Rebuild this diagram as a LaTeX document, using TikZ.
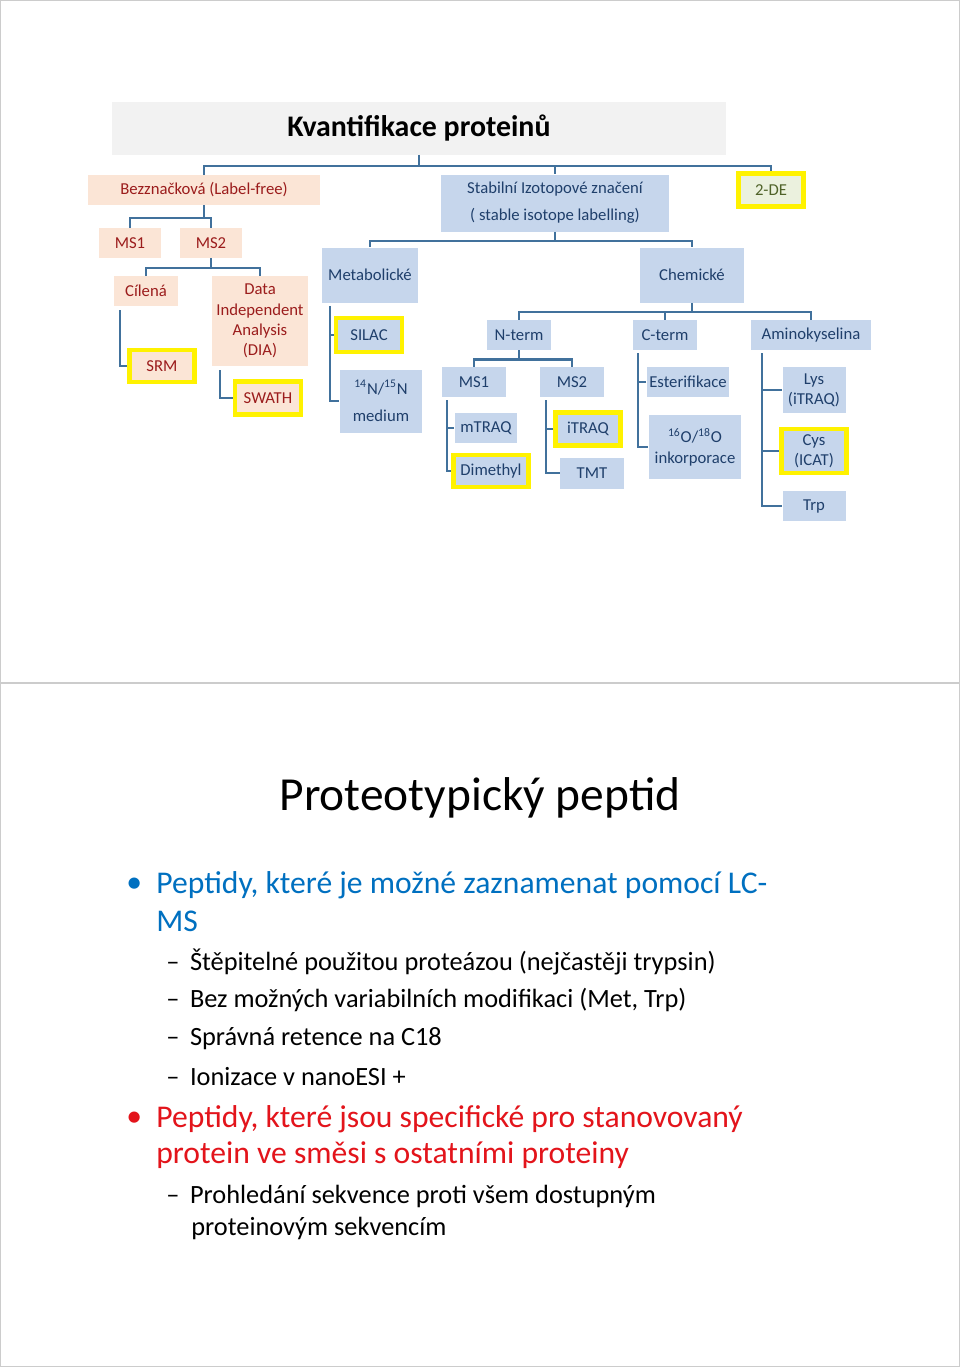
\documentclass[tikz,border=0pt]{standalone}
\usepackage{fontspec}
\setmainfont{Carlito}
\usetikzlibrary{calc}

\definecolor{peach}{HTML}{FBE5D6}
\definecolor{redtxt}{HTML}{9B1C1C}
\definecolor{bluebox}{HTML}{C6D6EC}
\definecolor{bluetxt}{HTML}{1F3F6B}
\definecolor{linecol}{HTML}{41719C}
\definecolor{greenbox}{HTML}{EBF1DE}
\definecolor{greentxt}{HTML}{4F6228}
\definecolor{bulletblue}{HTML}{0070C0}
\definecolor{bulletred}{HTML}{E3141B}

\tikzset{
  lf/.style={fill=peach, text=redtxt, font=\fontsize{9.5}{11.5}\selectfont, inner sep=0pt, align=center},
  sil/.style={fill=bluebox, text=bluetxt, font=\fontsize{9.5}{11.5}\selectfont, inner sep=0pt, align=center},
  hl/.style={draw=yellow, line width=2.6pt},
  conn/.style={draw=linecol, line width=1.3pt},
  bul/.style={anchor=west, inner sep=0pt, font=\fontsize{18}{21}\selectfont},
  sub/.style={anchor=west, inner sep=0pt, font=\fontsize{15}{18}\selectfont},
}

\begin{document}
\begin{tikzpicture}[x=0.02cm, y=-0.02cm]

%%%%%%%%%%%%%%%%%%%%%%
%%%	    Cadre       %%%
%%%%%%%%%%%%%%%%%%%%%%

\useasboundingbox (0,0) rectangle (960,1367);
\fill[white] (0,0) rectangle (960,1367);
\draw[black!20, line width=0.6pt] (0.5,0.5) rectangle (959.5,1366.5);
\draw[black!20, line width=0.6pt] (0,683) -- (960,683);

%%%%%%%%%%%%%%%%%%%%%%
%%%	   Noeuds       %%%
%%%%%%%%%%%%%%%%%%%%%%

\node[fill=black!5, minimum width=12.28cm, minimum height=1.06cm, font=\fontsize{17}{20}\selectfont\bfseries] (titre) at (419,128) {Kvantifikace proteinů};

\node[lf, minimum width=4.64cm, minimum height=0.6cm] (bezz) at (204,190) {Bezznačková (Label-free)};
\node[sil, minimum width=4.56cm, minimum height=1.14cm] (stab) at (555,203) {Stabilní Izotopové značení\\[4pt]( stable isotope labelling)};
\node[hl, fill=greenbox, text=greentxt, font=\fontsize{9.5}{11.5}\selectfont, inner sep=0pt, minimum width=1.3cm, minimum height=0.66cm] (de) at (771,190) {2-DE};

\node[lf, minimum width=1.26cm, minimum height=0.6cm] (ms1a) at (130,243) {MS1};
\node[lf, minimum width=1.26cm, minimum height=0.6cm] (ms2a) at (211,243) {MS2};
\node[lf, minimum width=1.28cm, minimum height=0.6cm] (cil) at (146,291) {Cílená};
\node[lf, minimum width=1.92cm, minimum height=1.8cm] (dia) at (260,321) {Data\\Independent\\Analysis\\(DIA)};
\node[lf, hl, minimum width=1.3cm, minimum height=0.64cm] (srm) at (162,366) {SRM};
\node[lf, hl, minimum width=1.32cm, minimum height=0.66cm] (swath) at (268,398) {SWATH};

\node[sil, minimum width=1.92cm, minimum height=1.1cm] (metab) at (370,275) {Metabolické};
\node[sil, minimum width=2.1cm, minimum height=1.1cm] (chem) at (692,275) {Chemické};
\node[sil, hl, minimum width=1.32cm, minimum height=0.68cm] (silac) at (369,335) {SILAC};
\node[sil, minimum width=1.66cm, minimum height=1.26cm] (med) at (381,401) {\textsuperscript{14}N/\textsuperscript{15}N\\[4pt]medium};

\node[sil, minimum width=1.28cm, minimum height=0.6cm] (nterm) at (519,335) {N-term};
\node[sil, minimum width=1.28cm, minimum height=0.6cm] (cterm) at (665,335) {C-term};
\node[sil, minimum width=2.42cm, minimum height=0.6cm] (amino) at (811,335) {Aminokyselina};

\node[sil, minimum width=1.28cm, minimum height=0.6cm] (ms1b) at (474,382) {MS1};
\node[sil, minimum width=1.28cm, minimum height=0.6cm] (ms2b) at (572,382) {MS2};
\node[sil, minimum width=1.26cm, minimum height=0.6cm] (mtraq) at (486,428) {mTRAQ};
\node[sil, hl, minimum width=1.5cm, minimum height=0.64cm] (dimeth) at (491,471) {Dimethyl};
\node[sil, hl, minimum width=1.3cm, minimum height=0.66cm] (itraq) at (588,429) {iTRAQ};
\node[sil, minimum width=1.28cm, minimum height=0.62cm] (tmt) at (592,473) {TMT};

\node[sil, minimum width=1.66cm, minimum height=0.6cm] (ester) at (688,382) {Esterifikace};
\node[sil, minimum width=1.86cm, minimum height=1.28cm] (kyslik) at (695,447) {\textsuperscript{16}O/\textsuperscript{18}O\\inkorporace};
\node[sil, minimum width=1.26cm, minimum height=0.92cm] (lys) at (814,390) {Lys\\(iTRAQ)};
\node[sil, hl, minimum width=1.3cm, minimum height=0.88cm] (cys) at (814,451) {Cys\\(ICAT)};
\node[sil, minimum width=1.26cm, minimum height=0.6cm] (trp) at (814,506) {Trp};

%%%%%%%%%%%%%%%%%%%%%%
%%%	   Spojnice     %%%
%%%%%%%%%%%%%%%%%%%%%%

% rozdeleni hlavniho nadpisu
\draw[conn] (titre.south) -- ++(0,11) coordinate (t1);
\draw[conn] (t1) -| (bezz.north);
\draw[conn] (t1) -| (stab.north);
\draw[conn] (t1) -| (de.north);

% label-free vetev
\draw[conn] (bezz.south) -- ++(0,13) coordinate (t2);
\draw[conn] (t2) -| (ms1a.north);
\draw[conn] (t2) -| (ms2a.north);
\draw[conn] (ms2a.south) -- ++(0,10) coordinate (t3);
\draw[conn] (t3) -| (cil.north);
\draw[conn] (t3) -| (dia.north);
\draw[conn] ($(cil.south west)+(6,4)$) |- (srm.west);
\draw[conn] ($(dia.south west)+(8,4)$) |- (swath.west);

% izotopove znaceni
\draw[conn] (stab.south) -- ++(0,9) coordinate (t4);
\draw[conn] (t4) -| (metab.north);
\draw[conn] (t4) -| (chem.north);
\draw[conn] ($(metab.south west)+(8,3)$) coordinate (v1) |- (med.west);
\draw[conn] (silac.west) -- (silac.west -| v1);

\draw[conn] (chem.south) -- ++(0,9) coordinate (t5);
\draw[conn] (t5) -| (nterm.north);
\draw[conn] (t5) -| (cterm.north);
\draw[conn] (t5) -| (amino.north);

\draw[conn] (nterm.south) -- ++(0,9) coordinate (t6);
\draw[conn] (t6) -| (ms1b.north);
\draw[conn] (t6) -| (ms2b.north);
\draw[conn] ($(ms1b.south west)+(5,3)$) coordinate (v2) |- (dimeth.west);
\draw[conn] (mtraq.west) -- (mtraq.west -| v2);
\draw[conn] ($(ms2b.south west)+(6,3)$) coordinate (v3) |- (tmt.west);
\draw[conn] (itraq.west) -- (itraq.west -| v3);

\draw[conn] ($(cterm.south west)+(5,3)$) coordinate (v4) |- (kyslik.west);
\draw[conn] (ester.west) -- (ester.west -| v4);
\draw[conn] ($(amino.south west)+(12,3)$) coordinate (v5) |- (trp.west);
\draw[conn] (lys.west) -- (lys.west -| v5);
\draw[conn] (cys.west) -- (cys.west -| v5);

%%%%%%%%%%%%%%%%%%%%%%
%%%	  Druhy slajd   %%%
%%%%%%%%%%%%%%%%%%%%%%

\node[font=\fontsize{27}{32}\selectfont] (nadpis) at (480,798) {Proteotypický peptid};

\node[bul, text=bulletblue] (b1) at (126,885) {•};
\node[bul, text=bulletblue] (b1a) at (156,885) {Peptidy, které je možné zaznamenat pomocí LC-};
\node[bul, text=bulletblue] (b1b) at (156,921) {MS};
\node[sub] (s1) at (166,962) {–\hspace{6pt}Štěpitelné použitou proteázou (nejčastěji trypsin)};
\node[sub] (s2) at (166,1000) {–\hspace{6pt}Bez možných variabilních modifikaci (Met, Trp)};
\node[sub] (s3) at (166,1039) {–\hspace{6pt}Správná retence na C18};
\node[sub] (s4) at (166,1077) {–\hspace{6pt}Ionizace v nanoESI +};
\node[bul, text=bulletred] (b2) at (126,1119) {•};
\node[bul, text=bulletred] (b2a) at (156,1119) {Peptidy, které jsou specifické pro stanovovaný};
\node[bul, text=bulletred] (b2b) at (156,1155) {protein ve směsi s ostatními proteiny};
\node[sub] (s5) at (166,1196) {–\hspace{6pt}Prohledání sekvence proti všem dostupným};
\node[sub] (s6) at (191,1228) {proteinovým sekvencím};

\end{tikzpicture}
\end{document}
